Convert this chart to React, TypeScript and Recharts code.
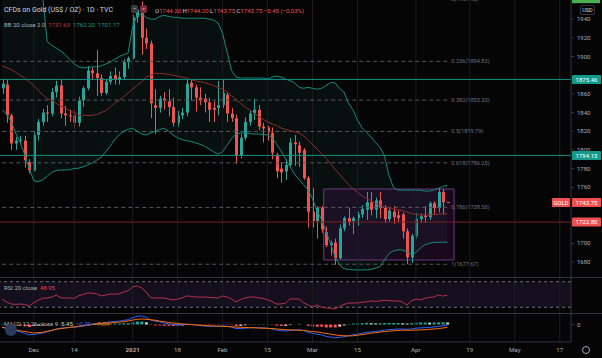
import { Area, Bar, Cell, ComposedChart, Line, ReferenceArea, ReferenceLine, XAxis, YAxis } from "recharts";

const W = 602;
const BG = "#050505";
const GREEN = "#26a69a";
const RED = "#ef5350";
const BB_TEAL = "#138a7e";
const BB_BASIS = "#8c2d2d";
const GRID = "#1b1c20";
const SEP = "#34363d";
const TEXT = "#a9acb5";
const FONT = "Roboto, 'Noto Sans', sans-serif";

// daily candles, Nov 20 2020 .. Apr 12 2021
const opens = [
  1866, 1870, 1837, 1807, 1810, 1810, 1787, 1778, 1816, 1830,
  1840, 1839, 1862, 1869, 1839, 1837, 1837, 1829, 1853, 1866,
  1885, 1882, 1877, 1861, 1873, 1880, 1875, 1878, 1894, 1898,
  1942, 1950, 1920, 1914, 1848, 1845, 1855, 1852, 1846, 1829,
  1837, 1840, 1872, 1867, 1856, 1855, 1851, 1845, 1845, 1848,
  1859, 1839, 1834, 1794, 1813, 1830, 1839, 1843, 1825, 1824,
  1818, 1795, 1780, 1777, 1784, 1808, 1805, 1800, 1770, 1734,
  1724, 1738, 1712, 1698, 1701, 1684, 1716, 1727, 1724, 1727,
  1731, 1736, 1744, 1736, 1746, 1738, 1726, 1734, 1730, 1731,
  1713, 1685, 1708, 1726, 1730, 1728, 1743, 1738, 1755, 1744.2,
];
const highs = [
  1876, 1875, 1839, 1814, 1815, 1815, 1790, 1820, 1833, 1844,
  1848, 1866, 1874, 1875, 1847, 1843, 1843, 1857, 1868, 1890,
  1888, 1907, 1881, 1875, 1884, 1888, 1884, 1897, 1900, 1945,
  1953, 1959, 1930, 1917, 1865, 1858, 1862, 1865, 1856, 1842,
  1845, 1875, 1876, 1870, 1867, 1860, 1856, 1852, 1874, 1875,
  1862, 1845, 1838, 1817, 1835, 1842, 1855, 1848, 1829, 1826,
  1824, 1797, 1787, 1790, 1813, 1816, 1809, 1802, 1772, 1759,
  1740, 1740, 1718, 1703, 1705, 1720, 1729, 1738, 1729, 1734,
  1741, 1755, 1755, 1749, 1755, 1741, 1738, 1740, 1735, 1733,
  1716, 1710, 1733, 1732, 1740, 1745, 1745, 1759, 1758, 1744.2,
];
const lows = [
  1860, 1829, 1800, 1800, 1806, 1781, 1775, 1777, 1810, 1826,
  1830, 1836, 1856, 1834, 1826, 1830, 1822, 1825, 1846, 1864,
  1876, 1858, 1858, 1859, 1870, 1870, 1870, 1875, 1887, 1897,
  1936, 1902, 1908, 1834, 1817, 1840, 1843, 1836, 1825, 1825,
  1833, 1836, 1853, 1841, 1848, 1840, 1830, 1830, 1837, 1845,
  1830, 1830, 1785, 1791, 1810, 1826, 1832, 1821, 1808, 1810,
  1790, 1770, 1765, 1768, 1782, 1783, 1782, 1768, 1717, 1717,
  1705, 1711, 1696, 1687, 1677, 1683, 1713, 1719, 1710, 1719,
  1727, 1725, 1730, 1727, 1727, 1722, 1723, 1721, 1722, 1705,
  1677.67, 1679, 1705, 1722, 1722, 1725, 1731, 1733, 1731, 1743.75,
];
const closes = [
  1871, 1837, 1807, 1810, 1811, 1789, 1778, 1816, 1830, 1840,
  1839, 1862, 1869, 1839, 1837, 1836, 1829, 1853, 1866, 1885,
  1882, 1877, 1861, 1873, 1879, 1876, 1878, 1894, 1898, 1942,
  1950, 1920, 1914, 1850, 1845, 1855, 1853, 1846, 1829, 1837,
  1840, 1871, 1867, 1856, 1853, 1851, 1843, 1843, 1848, 1861,
  1839, 1834, 1794, 1813, 1830, 1839, 1843, 1825, 1823, 1819,
  1797, 1777, 1776, 1784, 1808, 1806, 1797, 1770, 1734, 1724,
  1738, 1715, 1698, 1700, 1684, 1716, 1727, 1723, 1727, 1731,
  1737, 1744, 1736, 1746, 1738, 1726, 1735, 1728, 1727, 1713,
  1685, 1708, 1726, 1729, 1728, 1743, 1738, 1755, 1744, 1743.75,
];

// Bollinger 20, 2
const bbUpper = [
  1985, 1982, 1980, 1978, 1976, 1975, 1972, 1970, 1968, 1964,
  1916, 1912, 1909, 1906, 1902, 1897, 1892, 1889, 1888, 1888,
  1889, 1889, 1890, 1892, 1894, 1897, 1900, 1902, 1904, 1932,
  1944, 1946, 1942, 1940, 1940, 1943, 1944, 1943, 1942, 1942,
  1941, 1941, 1941, 1941, 1941, 1941, 1940, 1939, 1936, 1925,
  1905, 1885, 1878, 1877, 1877, 1877, 1877, 1877, 1877, 1876,
  1878, 1879, 1878, 1876, 1874, 1872, 1867, 1866, 1867, 1866,
  1865, 1866, 1869, 1872, 1872, 1866, 1862, 1850, 1843, 1832,
  1824, 1819, 1814, 1808, 1803, 1794, 1773, 1760, 1757, 1757,
  1757, 1757, 1757, 1757, 1756, 1756, 1757, 1759, 1761, 1762.2,
];
const bbBasis = [
  1890, 1888, 1886, 1883, 1880, 1877, 1873, 1869, 1864, 1859,
  1855, 1853, 1850, 1847, 1845, 1842, 1840, 1837.5, 1837, 1837,
  1837, 1838, 1840, 1842, 1846, 1850, 1853, 1857, 1861, 1865,
  1869, 1873, 1878, 1880, 1882, 1882, 1881.5, 1881, 1880, 1879,
  1878, 1877, 1875, 1874, 1873, 1872, 1870.5, 1869, 1867, 1865,
  1862, 1858, 1854, 1850, 1846, 1843, 1839.5, 1836, 1833, 1830,
  1828, 1826, 1823.5, 1822, 1820.5, 1819.5, 1818, 1815, 1811, 1806,
  1801, 1796, 1791, 1785, 1779.5, 1774, 1768.5, 1763, 1758.5, 1755,
  1751, 1748, 1745.5, 1743, 1741, 1739.5, 1738, 1737, 1736, 1735,
  1733.5, 1732, 1731, 1730.5, 1730.5, 1730.5, 1731, 1731.2, 1731.4, 1731.69,
];
const bbLower = [
  1843, 1838, 1830, 1818, 1808, 1795, 1780, 1767, 1766, 1768,
  1772, 1776, 1778, 1778.5, 1778.5, 1779, 1780, 1780.5, 1782, 1784,
  1786, 1789, 1792, 1798, 1804, 1811, 1816, 1820, 1822, 1823,
  1820, 1817, 1816, 1818, 1820, 1822, 1823, 1820, 1816, 1813,
  1811, 1810, 1809, 1807.5, 1806, 1804, 1801, 1798, 1795.6, 1798,
  1805, 1812, 1817, 1818, 1818, 1817.5, 1817, 1817, 1816.5, 1816,
  1813, 1806, 1799, 1790, 1782, 1774, 1768, 1763, 1757, 1748,
  1734, 1726, 1713, 1700, 1686, 1677, 1673, 1672, 1671.6, 1671.6,
  1671.6, 1671.6, 1672, 1673.5, 1675, 1682, 1689, 1692, 1693, 1693,
  1691, 1688, 1690, 1695, 1698.5, 1700, 1701, 1701.2, 1701.2, 1701.17,
];

const rsi = [
  43, 38, 35, 34.5, 35, 34.5, 32, 37, 41, 44,
  44.5, 46, 49, 45, 44.5, 44.5, 44, 48, 50, 52.3,
  52, 51, 47.7, 49, 50.8, 50.5, 51, 54, 56, 61.7,
  63.3, 60.2, 54, 45, 44.5, 44.5, 44.5, 43, 41.4, 43,
  44.5, 47.7, 47, 46, 46, 46, 45.5, 45, 44.5, 47.7,
  46, 43, 38.3, 42, 44.5, 46, 46, 44.5, 44, 42,
  39, 35, 35.2, 36.5, 43, 43, 43, 37, 33.6, 30.5,
  33.6, 30, 29, 28.5, 27.3, 31, 34.5, 36.5, 36.7, 36.7,
  38, 38.3, 40, 39, 40, 41, 40.5, 39.8, 39.8, 38.3,
  33.6, 40, 43, 41.4, 44, 45.5, 46, 49.2, 47.5, 48.95,
];

const macd = [
  -7, -10, -13, -16, -20, -24, -28, -27, -25, -23,
  -20, -16, -12, -10, -9, -8, -7, -6, -4, -1,
  1.5, 3, 3.5, 5, 7, 8, 9, 11, 13, 18,
  22, 23, 20, 12, 9, 7, 4, 2, 0, 0,
  -1, 0, 0, -1, -3, -4, -4.5, -5, -5, -4,
  -5, -7, -11, -11, -10, -9, -8, -9, -9, -10,
  -12, -15, -17, -17.5, -16, -15, -14, -16, -21, -24,
  -26, -28, -32, -34, -36, -35, -33, -30, -28, -26,
  -24, -21, -20, -19, -17, -15, -14, -13, -12, -12,
  -13, -12, -10, -9, -8.5, -8, -6.5, -5, -3.5, -2.39,
];
const signal = [
  -8, -10, -12, -15, -17, -19, -21, -23, -22, -21,
  -18, -16, -13, -11, -9.5, -8, -6.5, -5, -3.5, -1.5,
  0, 1, 2, 3.5, 4.5, 5.5, 6.5, 7.5, 9.5, 12,
  14, 15, 14, 13, 11.5, 9.5, 7.5, 5.5, 4, 3,
  1.5, 1, 0, -1, -2, -3, -3.5, -4, -4.5, -5,
  -5.5, -6, -7, -7.5, -8, -8.5, -9, -9.5, -10, -10.5,
  -11, -12, -13, -14, -14.5, -15, -15.5, -16, -17.5, -19,
  -20, -22, -24, -26, -28, -29.5, -30.5, -31, -30.5, -29,
  -27.5, -25.5, -23.5, -22, -20.5, -19, -18, -17, -16, -15.5,
  -15.5, -15.5, -15, -14.5, -14, -13, -12, -11, -9.5, -7.84,
];
const hist = [
  1, 0, -1, -1, -3, -5, -7, -4, -3, -2,
  -2, 0, 1, 1, 0.5, 0, -0.5, -1, -0.5, 0.5,
  1.5, 2, 1.5, 1.5, 2.5, 2.5, 2.5, 3.5, 3.5, 6,
  8, 8, 6, -1, -2.5, -2.5, -3.5, -3.5, -4, -3,
  -2.5, -1, 0, 0, -1, -1, -1, -1, -0.5, 1,
  0.5, -1, -4, -3.5, -2, -0.5, 1, 0.5, 1, 0.5,
  -1, -3, -4, -3.5, -1.5, 0, 1.5, 0, -3.5, -5,
  -6, -6, -8, -8, -8, -5.5, -2.5, 1, 2.5, 3,
  3.5, 4.5, 3.5, 3, 3.5, 4, 4, 4, 4, 3.5,
  2.5, 3.5, 5, 5.5, 5.5, 5, 5.5, 6, 6, 5.45,
];

const tickIdx = [7, 16, 29, 39, 49, 59, 69, 79, 92, 104, 114, 124];
const tickText = ["Dec", "14", "2021", "18", "Feb", "15", "Mar", "15", "Apr", "19", "May", "17"];
// 1720, 1740 and 1880 sit under the price badges on the original
const priceTicks = [1680, 1700, 1760, 1780, 1800, 1820, 1840, 1860, 1900, 1920, 1940];

const fibRatios = ["0", "0.236", "0.382", "0.5", "0.618", "0.786", "1"];
const fibPrices = [1961.92, 1894.83, 1853.33, 1819.79, 1786.25, 1738.5, 1677.67];

const SLOTS = 127;
const PRICE_DOMAIN = [1664, 1960.5];

const data = Array.from({ length: SLOTS }, (_, i) =>
  i < closes.length
    ? {
        i,
        o: opens[i], h: highs[i], l: lows[i], c: closes[i],
        range: [lows[i], highs[i]],
        upper: bbUpper[i], basis: bbBasis[i], lower: bbLower[i],
        band: [bbLower[i], bbUpper[i]],
        rsi: rsi[i], macd: macd[i], signal: signal[i], hist: hist[i],
      }
    : { i }
);

function histColor(i: number) {
  const v = hist[i];
  const p = i > 0 ? hist[i - 1] : v;
  if (v >= 0) return v >= p ? "#26a69a" : "#b2dfdb";
  return v <= p ? "#ff5252" : "#ffcdd2";
}

function Candle(props: any) {
  const { x, y, width, height, payload } = props;
  if (!payload || payload.o == null) return null;
  const { o, h, l, c } = payload;
  const top = Math.min(y, y + height);
  const span = Math.abs(height);
  const k = h - l > 0 ? span / (h - l) : 0;
  const cx = Math.round(x + width / 2) + 0.5;
  const yO = top + (h - o) * k;
  const yC = top + (h - c) * k;
  const col = c >= o ? GREEN : RED;
  return (
    <g>
      <line x1={cx} x2={cx} y1={top} y2={top + span} stroke={col} strokeWidth={1} />
      <rect x={cx - 1.5} y={Math.min(yO, yC)} width={3} height={Math.max(1, Math.abs(yO - yC))} fill={col} />
    </g>
  );
}

function badge(text: string, bg: string, tag?: string) {
  return (p: any) => {
    const vb = p.viewBox;
    if (!vb) return null;
    const ax = vb.x + vb.width;
    const cy = vb.y;
    return (
      <g>
        {tag ? (
          <g>
            <rect x={ax - 19} y={cy - 4.5} width={18} height={9} fill={bg} rx={1} />
            <text x={ax - 10} y={cy + 2.2} textAnchor="middle" fill="#fff" fontSize={5.8} fontFamily={FONT}>{tag}</text>
          </g>
        ) : null}
        <rect x={ax + 1} y={cy - 4.5} width={29} height={9} fill={bg} rx={1} />
        <text x={ax + 15.5} y={cy + 2.2} textAnchor="middle" fill="#fff" fontSize={6} fontFamily={FONT}>{text}</text>
      </g>
    );
  };
}

function fibLabel(text: string, withTopBadge: boolean) {
  return (p: any) => {
    const vb = p.viewBox;
    if (!vb) return null;
    return (
      <g>
        <text x={vb.x + vb.width + 4} y={vb.y + 2} fill="#6f727c" fontSize={5.6} fontFamily={FONT}>{text}</text>
        {withTopBadge ? <rect x={572} y={vb.y - 4.5} width={28} height={9} fill="#4caf50" /> : null}
      </g>
    );
  };
}

function TimeTick(props: any) {
  const { x, y, payload } = props;
  const k = tickIdx.indexOf(payload.value);
  if (k < 0) return null;
  return (
    <text x={x} y={y + 10} textAnchor="middle" fill={TEXT} fontSize={6.2} fontFamily={FONT} fontWeight={tickText[k] === "2021" ? 700 : 400}>
      {tickText[k]}
    </text>
  );
}

const gridLines = () =>
  tickIdx.map((t) => <ReferenceLine key={"g" + t} x={t} stroke={GRID} strokeWidth={1} />);

const margin = { top: 0, right: 0, bottom: 0, left: 0 };

export default function App() {
  return (
    <div style={{ position: "absolute", left: 0, top: 0, width: W, height: 358, background: BG, overflow: "hidden", fontFamily: FONT }}>
      <div style={{ position: "absolute", left: 0, top: 0 }}>
        <ComposedChart width={W} height={277} data={data} margin={margin}>
          <XAxis dataKey="i" type="category" scale="band" hide />
          <YAxis
            orientation="right"
            width={31}
            domain={PRICE_DOMAIN}
            ticks={priceTicks}
            interval={0}
            allowDataOverflow
            tick={{ fill: TEXT, fontSize: 6, fontFamily: FONT }}
            tickSize={3}
            tickMargin={3}
            tickLine={{ stroke: SEP }}
            axisLine={{ stroke: SEP }}
          />
          {gridLines()}
          <Area dataKey="band" stroke="none" fill={GREEN} fillOpacity={0.07} dot={false} activeDot={false} isAnimationActive={false} />
          <ReferenceArea x1={72} x2={100} y1={1682.2} y2={1758.2} fill="#9c27b0" fillOpacity={0.13} stroke="#6d3a80" strokeWidth={1} />
          {fibPrices.map((v, k) => (
            <ReferenceLine
              key={"f" + k}
              segment={[{ x: 0, y: v }, { x: 99, y: v }]}
              stroke="#55575e"
              strokeDasharray="4 3"
              ifOverflow="visible"
              label={fibLabel(`${fibRatios[k]}(${v.toFixed(2)})`, k === 0)}
            />
          ))}
          <Line dataKey="upper" stroke={BB_TEAL} strokeWidth={1} dot={false} activeDot={false} isAnimationActive={false} />
          <Line dataKey="lower" stroke={BB_TEAL} strokeWidth={1} dot={false} activeDot={false} isAnimationActive={false} />
          <Line dataKey="basis" stroke={BB_BASIS} strokeWidth={1} dot={false} activeDot={false} isAnimationActive={false} />
          <Bar dataKey="range" barSize={3} isAnimationActive={false} shape={(p: any) => <Candle {...p} />} />
          <ReferenceLine y={1875.46} stroke="#138f82" strokeWidth={1} />
          <ReferenceLine y={1794.15} stroke="#138f82" strokeWidth={1} />
          <ReferenceLine y={1722.8} stroke="#7d1f22" strokeWidth={1} />
        </ComposedChart>
      </div>

      {/* price badges, drawn on top of the axis labels */}
      <div style={{ position: "absolute", left: 0, top: 0 }}>
        <ComposedChart width={W} height={277} data={data} margin={margin}>
          <XAxis dataKey="i" type="category" scale="band" hide />
          <YAxis orientation="right" width={31} domain={PRICE_DOMAIN} allowDataOverflow tick={false} tickLine={false} axisLine={false} />
          <ReferenceLine y={1875.46} stroke="none" label={badge("1875.46", "#15998b")} />
          <ReferenceLine y={1794.15} stroke="none" label={badge("1794.15", "#15998b")} />
          <ReferenceLine y={1722.8} stroke="none" label={badge("1722.80", "#ef4f4f")} />
          <ReferenceLine y={1743.75} stroke="none" label={badge("1743.75", "#ef4f4f", "GOLD")} />
        </ComposedChart>
      </div>

      <div style={{ position: "absolute", left: 0, top: 277, width: W, borderTop: `1px solid ${SEP}` }}>
        <ComposedChart width={W} height={35} data={data} margin={margin}>
          <XAxis dataKey="i" type="category" scale="band" hide />
          <YAxis orientation="right" width={31} domain={[21, 75.8]} allowDataOverflow tick={false} tickLine={false} axisLine={{ stroke: SEP }} />
          {gridLines()}
          <ReferenceArea y1={30} y2={70} fill="#7e57c2" fillOpacity={0.12} stroke="none" />
          <ReferenceLine y={70} stroke="#6f727c" strokeDasharray="3 3" />
          <ReferenceLine y={30} stroke="#6f727c" strokeDasharray="3 3" />
          <Line dataKey="rsi" stroke="#b8324f" strokeWidth={1} dot={false} activeDot={false} isAnimationActive={false} />
        </ComposedChart>
      </div>

      <div style={{ position: "absolute", left: 0, top: 313, width: W, borderTop: `1px solid ${SEP}` }}>
        <ComposedChart width={W} height={44} data={data} margin={margin}>
          <XAxis
            dataKey="i"
            type="category"
            scale="band"
            height={16}
            interval={0}
            tickLine={false}
            tickSize={0}
            tickMargin={0}
            axisLine={{ stroke: SEP }}
            tick={(p: any) => <TimeTick {...p} />}
          />
          <YAxis
            orientation="right"
            width={31}
            domain={[-47.3, 28.4]}
            ticks={[0]}
            allowDataOverflow
            tick={{ fill: TEXT, fontSize: 6, fontFamily: FONT }}
            tickSize={3}
            tickMargin={3}
            tickLine={{ stroke: SEP }}
            axisLine={{ stroke: SEP }}
          />
          {gridLines()}
          <Bar dataKey="hist" barSize={3} isAnimationActive={false}>
            {data.map((d, i) => (
              <Cell key={i} fill={i < hist.length ? histColor(i) : "none"} />
            ))}
          </Bar>
          <Line dataKey="macd" stroke="#2962ff" strokeWidth={1} dot={false} activeDot={false} isAnimationActive={false} />
          <Line dataKey="signal" stroke="#ff6d00" strokeWidth={1} dot={false} activeDot={false} isAnimationActive={false} />
        </ComposedChart>
      </div>

      {/* legends */}
      <div style={{ position: "absolute", left: 4, top: 6, fontSize: 7, lineHeight: "8px", color: "#d1d4dc", whiteSpace: "pre" }}>
        CFDs on Gold (US$ / OZ) · 1D · TVC
      </div>
      <div style={{ position: "absolute", left: 131, top: 5, width: 7, height: 8, borderRadius: 2, background: "#3a3c43", color: "#d1d4dc", fontSize: 6, lineHeight: "8px", textAlign: "center" }}>
        −
      </div>
      <div style={{ position: "absolute", left: 140, top: 5, width: 7, height: 8, borderRadius: 2, background: "#7a2a3a", color: "#ff8a9a", fontSize: 6, lineHeight: "8px", textAlign: "center" }}>
        =
      </div>
      <div style={{ position: "absolute", left: 155, top: 6.5, fontSize: 6, lineHeight: "7px", color: RED, whiteSpace: "pre" }}>
        <span style={{ color: "#d1d4dc" }}>O</span>1744.20 <span style={{ color: "#d1d4dc" }}>H</span>1744.20 <span style={{ color: "#d1d4dc" }}>L</span>1743.75 <span style={{ color: "#d1d4dc" }}>C</span>1743.75 −0.45 (−0.03%)
      </div>
      <div style={{ position: "absolute", left: 4, top: 20.5, fontSize: 6, lineHeight: "7px", color: TEXT, whiteSpace: "pre" }}>
        BB 20 close 2 0  <span style={{ color: "#b0403f" }}>1731.69</span>  <span style={{ color: "#1b9a8c" }}>1762.20</span>  <span style={{ color: "#1b9a8c" }}>1701.17</span>
      </div>
      <div style={{ position: "absolute", left: 4, top: 283.5, fontSize: 6, lineHeight: "7px", color: TEXT, whiteSpace: "pre" }}>
        RSI 20 close  <span style={{ color: "#e0405a" }}>48.95</span>
      </div>
      <div style={{ position: "absolute", left: 4, top: 319.5, fontSize: 6, lineHeight: "7px", color: TEXT, whiteSpace: "pre" }}>
        MACD 12 26 close 9  <span style={{ color: "#d1d4dc" }}>5.45</span>  <span style={{ color: "#2962ff" }}>−2.39</span>  <span style={{ color: "#ff6d00" }}>−7.84</span>
      </div>
      <div style={{ position: "absolute", left: 580, top: 5, width: 13, height: 8, border: `1px solid ${SEP}`, borderRadius: 2, color: "#d1d4dc", fontSize: 5.5, lineHeight: "8px", textAlign: "center" }}>
        USD
      </div>
      <div style={{ position: "absolute", left: 5, top: 324, width: 12, height: 12, borderRadius: 6, background: "#2b3b5c" }} />
      <div style={{ position: "absolute", left: 582, top: 346, width: 6, height: 6, borderRadius: 4, border: `1px solid ${TEXT}` }} />
    </div>
  );
}
